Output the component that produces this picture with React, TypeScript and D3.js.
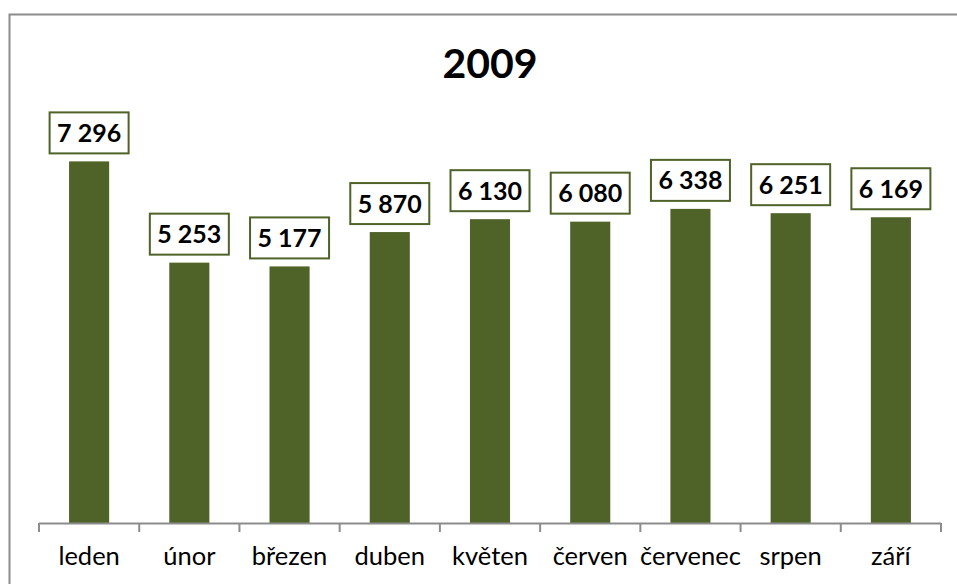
import React from "react";
import * as d3 from "d3";

const categories = ["leden", "únor", "březen", "duben", "květen", "červen", "červenec", "srpen", "září"];
const values = [7296, 5253, 5177, 5870, 6130, 6080, 6338, 6251, 6169];
const valueLabels = ["7 296", "5 253", "5 177", "5 870", "6 130", "6 080", "6 338", "6 251", "6 169"];
const title = "2009";

const W = 957;
const H = 584;
const FONT = "Lato, 'Open Sans', sans-serif";
const GREEN = "#4F6228";

export default function App() {
  const x = d3.scaleBand<string>().domain(categories).range([39, 941]).paddingInner(0.6).paddingOuter(0.3);
  const y = d3.scaleLinear().domain([0, 8000]).range([523, 126.5]);
  const step = x.step();
  const x0 = 39;
  const ticks = d3.range(categories.length + 1).map((i) => x0 + i * step);

  const labelSize = 25;
  const charW = (s: string) => {
    let w = 0;
    for (const c of s) w += c === " " ? 0.2 : 0.55;
    return w * labelSize;
  };

  return (
    <svg width={W} height={H} style={{ position: "absolute", left: 0, top: 0, background: "#fff" }}>
      <rect x={9.5} y={14.5} width={W + 10} height={H + 10} fill="#fff" stroke="#8c8c8c" strokeWidth={2} />
      <text x={490} y={78} textAnchor="middle" fontFamily={FONT} fontWeight="bold" fontSize={41} fill="#000">
        {title}
      </text>
      {categories.map((c, i) => (
        <rect key={c} x={x(c)} y={y(values[i])} width={x.bandwidth()} height={y(0) - y(values[i])} fill={GREEN} />
      ))}
      <line x1={x0} x2={x0 + step * categories.length} y1={523.5} y2={523.5} stroke="#8c8c8c" strokeWidth={2} />
      {ticks.map((t, i) => (
        <line key={i} x1={t} x2={t} y1={523} y2={532} stroke="#8c8c8c" strokeWidth={2} />
      ))}
      {categories.map((c, i) => (
        <text key={c} x={(x(c) as number) + x.bandwidth() / 2} y={565} textAnchor="middle" fontFamily={FONT} fontSize={25.5} fill="#000">
          {c}
        </text>
      ))}
      {categories.map((c, i) => {
        const cx = (x(c) as number) + x.bandwidth() / 2;
        const bw = charW(valueLabels[i]) + 19;
        const bh = 41;
        const by = y(values[i]) - 8 - bh;
        return (
          <g key={c}>
            <rect x={cx - bw / 2} y={by} width={bw} height={bh} fill="#fff" stroke={GREEN} strokeWidth={2} />
            <text x={cx} y={by + bh / 2 + 9} textAnchor="middle" fontFamily={FONT} fontWeight="bold" fontSize={labelSize} fill="#000">
              {valueLabels[i]}
            </text>
          </g>
        );
      })}
    </svg>
  );
}
